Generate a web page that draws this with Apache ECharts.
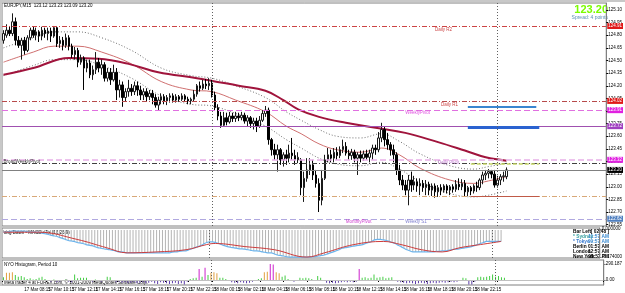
<!DOCTYPE html>
<html><head><meta charset="utf-8">
<script src="https://cdn.jsdelivr.net/npm/echarts@6/dist/echarts.min.js"></script>
<style>html,body{margin:0;padding:0;background:#fff}#c{width:625px;height:293px}</style>
</head><body><div id="c"></div>
<script>
// ---------- DATA ----------
const symbolTitle = 'EURJPY,M15  123.12 123.23 123.09 123.20';
const NBARS = 203;
const timeLabels = ['17 Mar 2010','17 Mar 08:15','17 Mar 10:15','17 Mar 12:15','17 Mar 14:15','17 Mar 16:15','17 Mar 18:15','17 Mar 20:15','17 Mar 22:15','18 Mar 00:15','18 Mar 02:15','18 Mar 04:15','18 Mar 06:15','18 Mar 08:15','18 Mar 10:15','18 Mar 12:15','18 Mar 14:15','18 Mar 16:15','18 Mar 18:15','18 Mar 20:15','18 Mar 22:15','19 Mar 00:15'];
const timeLabelBars = [0,7,15,23,31,39,47,55,63,71,79,87,95,103,111,119,127,135,143,151,159,167];
const daySeparators = [70,166];
const priceTicks = [125.10,124.95,124.80,124.65,124.50,124.35,124.20,124.05,123.90,123.75,123.60,123.45,123.30,123.15,123.00,122.85,122.70,122.55];

// candles: [open, close, low, high]
const candles = [
[124.74,124.82,124.70,124.86],[124.80,124.86,124.77,124.93],[124.86,124.82,124.79,124.91],[124.82,124.96,124.79,125.06],[124.96,124.74,124.68,125.01],
[124.74,124.68,124.65,124.79],[124.68,124.74,124.51,124.77],[124.74,124.62,124.57,124.78],[124.62,124.77,124.60,124.80],[124.77,124.86,124.74,124.89],
[124.86,124.80,124.77,124.90],[124.80,124.84,124.74,124.89],[124.84,124.79,124.72,124.86],[124.79,124.86,124.74,124.90],[124.86,124.82,124.77,124.89],
[124.82,124.85,124.74,124.89],[124.85,124.79,124.72,124.89],[124.79,124.89,124.77,124.91],[124.89,124.70,124.66,124.91],[124.70,124.74,124.65,124.79],
[124.74,124.68,124.62,124.78],[124.68,124.77,124.65,124.82],[124.77,124.67,124.62,124.80],[124.67,124.57,124.53,124.70],[124.57,124.62,124.51,124.66],
[124.62,124.48,124.42,124.65],[124.48,124.53,124.45,124.57],[124.53,124.41,124.15,124.55],[124.41,124.47,124.36,124.51],[124.47,124.33,124.29,124.51],
[124.33,124.39,124.27,124.44],[124.39,124.48,124.34,124.60],[124.48,124.41,124.36,124.53],[124.41,124.45,124.33,124.51],[124.45,124.29,124.25,124.48],
[124.29,124.36,124.25,124.41],[124.36,124.27,124.21,124.41],[124.27,124.36,124.25,124.45],[124.36,124.15,124.03,124.41],[124.15,124.21,124.06,124.27],
[124.21,124.06,123.95,124.25],[124.06,124.13,124.01,124.17],[124.13,124.17,124.07,124.27],[124.17,124.13,124.08,124.22],[124.13,124.20,124.09,124.25],
[124.20,124.15,124.08,124.25],[124.15,124.09,124.03,124.20],[124.09,124.13,124.03,124.17],[124.13,124.07,124.01,124.17],[124.07,124.11,124.03,124.15],
[124.11,124.06,123.98,124.15],[124.06,123.97,123.94,124.10],[123.97,124.03,123.91,124.07],[124.03,124.07,123.98,124.11],[124.07,124.02,123.98,124.10],
[124.02,124.06,123.97,124.09],[124.06,124.08,124.00,124.11],[124.08,124.03,124.00,124.11],[124.03,124.07,124.00,124.10],[124.07,124.04,124.01,124.09],
[124.04,124.08,124.02,124.11],[124.08,124.04,124.01,124.10],[124.04,124.02,123.98,124.07],[124.02,124.04,123.98,124.06],[124.04,124.10,124.01,124.15],
[124.10,124.20,124.07,124.22],[124.20,124.17,124.13,124.25],[124.17,124.22,124.15,124.27],[124.22,124.20,124.16,124.28],[124.20,124.23,124.15,124.29],
[124.23,124.09,124.06,124.27],[124.09,123.94,123.91,124.13],[123.94,123.84,123.79,123.98],[123.84,123.73,123.70,123.89],[123.73,123.82,123.71,123.89],
[123.82,123.77,123.73,123.88],[123.77,123.84,123.75,123.89],[123.84,123.81,123.77,123.88],[123.81,123.84,123.77,123.89],[123.84,123.82,123.78,123.88],
[123.82,123.85,123.79,123.89],[123.85,123.78,123.75,123.88],[123.78,123.82,123.72,123.85],[123.82,123.75,123.70,123.84],[123.75,123.78,123.68,123.82],
[123.78,123.72,123.65,123.82],[123.72,123.79,123.70,123.84],[123.79,123.87,123.77,123.91],[123.87,123.91,123.83,123.96],[123.91,123.56,123.50,123.94],
[123.56,123.44,123.37,123.58],[123.44,123.38,123.32,123.51],[123.38,123.44,123.18,123.50],[123.44,123.32,123.26,123.46],[123.32,123.38,123.24,123.41],
[123.38,123.34,123.26,123.44],[123.34,123.40,123.29,123.50],[123.40,123.37,123.32,123.58],[123.37,123.32,123.26,123.44],[123.32,123.35,123.28,123.41],
[123.32,122.99,122.90,123.34],[122.99,123.10,122.82,123.18],[123.10,123.20,123.06,123.34],[123.20,123.26,123.14,123.34],[123.26,123.14,123.08,123.32],
[123.14,123.04,122.99,123.20],[123.04,122.84,122.70,123.10],[122.84,123.10,122.78,123.20],[123.10,123.32,123.08,123.38],[123.32,123.38,123.29,123.46],
[123.38,123.34,123.29,123.44],[123.34,123.41,123.29,123.46],[123.41,123.37,123.32,123.47],[123.37,123.44,123.34,123.48],[123.44,123.48,123.40,123.56],
[123.48,123.40,123.37,123.53],[123.40,123.37,123.32,123.44],[123.37,123.41,123.32,123.45],[123.41,123.34,123.29,123.44],[123.34,123.38,123.14,123.41],
[123.38,123.34,123.29,123.43],[123.34,123.39,123.31,123.43],[123.39,123.35,123.32,123.44],[123.35,123.40,123.29,123.44],[123.40,123.46,123.32,123.50],
[123.46,123.44,123.38,123.50],[123.44,123.58,123.41,123.65],[123.58,123.68,123.53,123.76],[123.68,123.56,123.48,123.72],[123.56,123.50,123.44,123.64],
[123.50,123.44,123.37,123.53],[123.44,123.38,123.29,123.50],[123.38,123.20,123.14,123.41],[123.20,123.08,123.02,123.26],[123.08,123.02,122.96,123.14],
[123.02,122.96,122.90,123.08],[122.96,123.08,122.78,123.14],[123.08,123.02,122.94,123.18],[123.02,123.06,122.96,123.13],[123.06,123.01,122.94,123.10],
[123.01,123.04,122.90,123.10],[123.04,122.99,122.94,123.08],[122.99,123.03,122.90,123.08],[123.03,122.96,122.90,123.06],[122.96,123.01,122.89,123.04],
[123.01,122.94,122.87,123.04],[122.94,122.99,122.88,123.02],[122.99,122.96,122.90,123.03],[122.96,123.01,122.93,123.03],[123.01,122.96,122.92,123.03],
[122.96,123.00,122.90,123.02],[123.00,122.97,122.93,123.03],[122.97,123.03,122.94,123.08],[123.03,123.00,122.96,123.10],[123.00,123.04,122.96,123.09],
[123.04,122.94,122.89,123.08],[122.94,122.99,122.89,123.01],[122.99,122.95,122.90,123.01],[122.95,123.01,122.92,123.03],[123.01,122.99,122.94,123.06],
[122.99,123.08,122.96,123.10],[123.08,123.14,123.03,123.18],[123.14,123.16,123.08,123.20],[123.16,123.18,123.10,123.21],[123.18,123.15,123.10,123.20],
[123.15,123.02,122.99,123.20],[123.02,123.08,122.99,123.13],[123.08,123.12,123.02,123.15],[123.12,123.13,123.06,123.18],[123.12,123.20,123.09,123.23]
];

// moving averages: [barIndex, price]
const slowMA = [[0,124.33],[10,124.41],[22,124.53],[32,124.52],[42,124.46],[52,124.36],[65,124.29],[79,124.20],[88,124.14],[94,124.03],[99,123.92],[106,123.83],[115,123.76],[125,123.70],[135,123.64],[146,123.53],[155,123.43],[162,123.35],[169,123.31]];
const fastMA = [[0,124.48],[10,124.60],[17,124.67],[25,124.67],[33,124.60],[43,124.46],[53,124.25],[63,124.15],[70,124.13],[78,124.03],[88,123.89],[95,123.72],[100,123.63],[106,123.51],[112,123.44],[120,123.41],[127,123.46],[133,123.38],[140,123.22],[150,123.08],[158,123.04],[163,123.07],[169,123.12]];
const envUpper = [[0,124.65],[10,124.77],[17,124.84],[25,124.84],[33,124.77],[43,124.62],[53,124.41],[63,124.32],[70,124.29],[78,124.20],[88,124.06],[95,123.89],[100,123.79],[106,123.68],[112,123.60],[120,123.58],[127,123.63],[133,123.54],[140,123.39],[150,123.25],[158,123.21],[163,123.24],[169,123.28]];
const envLower = [[0,124.32],[10,124.44],[17,124.51],[25,124.51],[33,124.44],[43,124.29],[53,124.08],[63,123.98],[70,123.96],[78,123.87],[88,123.72],[95,123.56],[100,123.46],[106,123.34],[112,123.27],[120,123.25],[127,123.29],[133,123.21],[140,123.06],[150,122.92],[158,122.88],[163,122.90],[169,122.95]];

// pivot levels
const levelNames  = ['Daily R2','Daily R1','WeeklyPivot','Weekly R1','Daily Pivot','Broad Weekly Pivot','Bid','Daily S1','Weekly S1'];
const levelPrices = [124.91,124.02,123.91,123.72,123.32,123.28,123.20,122.89,122.62];
const levelBoxes  = [true,true,true,true,true,false,true,false,true];
const zoneSegments = [[156,179,123.95],[156,180,123.71],[157,180,123.27],[157,180,122.89]];

// MACD (12,26,9)
const macdMain = [-0.015,-0.015,-0.011,-0.008,-0.008,-0.008,-0.008,-0.008,-0.011,-0.015,-0.015,-0.015,-0.015,-0.021,-0.025,-0.028,-0.034,-0.038,-0.041,-0.048,
-0.054,-0.061,-0.068,-0.071,-0.074,-0.081,-0.084,-0.087,-0.094,-0.098,-0.101,-0.107,-0.114,-0.117,-0.121,-0.124,-0.127,-0.131,-0.134,-0.141,
-0.141,-0.144,-0.147,-0.147,-0.147,-0.147,-0.147,-0.147,-0.147,-0.147,-0.147,-0.147,-0.147,-0.147,-0.147,-0.147,-0.147,-0.144,-0.141,-0.141,
-0.137,-0.134,-0.134,-0.127,-0.121,-0.114,-0.107,-0.101,-0.091,-0.081,-0.077,-0.077,-0.081,-0.087,-0.094,-0.101,-0.107,-0.111,-0.114,-0.117,
-0.121,-0.121,-0.124,-0.127,-0.131,-0.134,-0.134,-0.137,-0.141,-0.144,-0.147,-0.147,-0.154,-0.161,-0.164,-0.167,-0.171,-0.174,-0.174,-0.174,
-0.174,-0.174,-0.174,-0.174,-0.174,-0.171,-0.171,-0.167,-0.164,-0.161,-0.154,-0.147,-0.141,-0.134,-0.127,-0.117,-0.114,-0.111,-0.107,-0.104,
-0.101,-0.098,-0.094,-0.087,-0.081,-0.074,-0.064,-0.061,-0.061,-0.064,-0.068,-0.074,-0.081,-0.087,-0.098,-0.107,-0.117,-0.127,-0.134,-0.141,
-0.141,-0.141,-0.141,-0.141,-0.141,-0.141,-0.141,-0.137,-0.137,-0.134,-0.134,-0.131,-0.127,-0.124,-0.124,-0.121,-0.117,-0.114,-0.111,-0.107,
-0.101,-0.094,-0.087,-0.081,-0.074,-0.074,-0.074,-0.074,-0.074,-0.074];
const macdSignal = [[0,-0.015],[12,-0.015],[25,-0.061],[35,-0.114],[42,-0.147],[52,-0.141],[62,-0.127],[69,-0.094],[72,-0.087],[82,-0.107],[92,-0.127],[103,-0.174],[109,-0.147],[119,-0.094],[129,-0.074],[135,-0.094],[142,-0.127],[149,-0.141],[155,-0.114],[162,-0.094],[169,-0.074]];
const macdLabels = ['0.000000','-0.174000'];

// NYO histogram, period 10
const nyo = [50,130,130,140,90,60,70,50,20,30,10,20,40,60,20,-20,-30,10,-40,-30,
-20,10,-30,-40,100,30,40,40,40,-20,-30,10,-20,-30,-20,60,50,-20,-40,-30,
-50,-40,-60,-50,-40,-60,-50,-40,-60,-50,-30,-60,-70,-40,-50,-60,-70,-60,-50,-70,
-60,-81,-30,20,30,40,200,60,220,90,130,140,120,40,40,20,-20,-40,-50,-60,
-40,-50,-60,-50,-30,-20,20,30,140,150,290.187,280,140,120,60,80,20,-20,-30,-20,
40,30,40,30,20,-20,70,40,-20,-50,-60,-50,-60,-50,-40,-30,-40,-30,-40,-30,
200,40,50,30,40,100,40,50,60,30,40,50,-20,-30,-40,-50,-60,-50,-60,-70,
-60,-50,-60,-70,-60,-50,-60,-50,-40,-50,-40,-30,-40,-30,-20,40,30,-80,-81.129,-30,
50,60,50,60,70,100,60,70,50,40];
const nyoLabels = [290.187,0,-81.129];

const clocks = [['Bar Left','[ 02:48 ]'],['* Sydney','11:57 AM'],['* Tokyo','09:57 AM'],['Berlin','01:57 AM'],['London','12:57 AM'],['New York','08:57 PM']];

// ---------- CHART ----------
const FONT = 'Liberation Sans, Arial, sans-serif';
const cats = Array.from({length: NBARS}, (_, i) => i);
const labelMap = {};
timeLabelBars.forEach((b, j) => labelMap[b] = timeLabels[j]);

const lvlStyle = [
  {color:'#cc4444', type:[5,2,1,2], box:'#e01818'},
  {color:'#b84a4a', type:[5,2,1,2], box:'#e01818'},
  {color:'#e070e0', type:[6,3], box:'#e020e0'},
  {color:'#a050b0', type:'solid', box:'#a040c0'},
  {color:'#e8b0e8', type:[6,3], box:'#e020e0', width:1.5},
  {color:'#404040', type:[5,2,1,2], box:'#000'},
  {color:'#808080', type:'solid', box:'#000'},
  {color:'#d8a878', type:[5,2,1,2], box:'#d08040'},
  {color:'#b0a8e0', type:[6,3], box:'#4f7fc0'}
];
const levelLines = levelPrices.map((p, k) => ({
  yAxis: p,
  lineStyle: {color: lvlStyle[k].color, type: lvlStyle[k].type, width: lvlStyle[k].width || 1},
  label: levelBoxes[k] ? {show:true, position:'end', distance:1, formatter: p.toFixed(2), fontSize:4.5, fontFamily:FONT, color:'#fff', backgroundColor: lvlStyle[k].box, padding:[1,1,0,1]} : {show:false}
}));
const segStyles = [
  {color:'#3a86d0', width:2},
  {color:'#2a62d0', width:3},
  {color:'#c8d868', width:1.5, type:[4,2]},
  {color:'#c05a48', width:1}
];
const segLines = zoneSegments.map((s, k) => [
  {coord:[s[0], s[2]], lineStyle:{color:segStyles[k].color, width:segStyles[k].width, type:segStyles[k].type || 'solid'}, label:{show:false}},
  {coord:[s[1], s[2]]}
]);
const dayLines = daySeparators.map(d => ({xAxis: d, lineStyle:{color:'#606060', type:[1,2], width:1}, label:{show:false}}));

const textPts = [
  ['Daily R2', 145, 124.87, '#cc4444'],
  ['Daily R1', 147, 123.98, '#cc4444'],
  ['WeeklyPivot', 135, 123.88, '#e050e0'],
  ['Daily Pivot', 146, 123.285, '#c080d0'],
  ['BroadWeeklyPivot', 0, 123.30, '#404040'],
  ['MonthlyPivot', 115, 122.59, '#d040d0'],
  ['Weekly S1', 135, 122.59, '#8080d0']
];

const nyoColor = v => v > 180 ? '#cc22cc' : v > 110 ? '#e0a040' : v >= 0 ? '#44cc44' : '#5a3aa8';

const chart = echarts.init(document.getElementById('c'), null, {renderer:'canvas'});
const commonX = idx => ({
  type:'category', gridIndex: idx, data: cats, boundaryGap: true,
  axisLine:{show:false}, axisTick:{show:false}, axisLabel:{show:false}, splitLine:{show:false}
});
const option = {
  animation:false,
  backgroundColor:'#fff',
  textStyle:{fontFamily:FONT},
  grid:[
    {left:2, right:14, top:3, height:223, show:true, borderColor:'#808080', borderWidth:1, backgroundColor:'#fff'},
    {left:2, right:14, top:228, height:30, show:true, borderColor:'#808080', borderWidth:1},
    {left:2, right:14, top:260, height:25, show:true, borderColor:'#808080', borderWidth:1}
  ],
  xAxis:[
    commonX(0), commonX(1),
    Object.assign(commonX(2), {
      axisLabel:{show:true, interval:(i)=> labelMap[i] !== undefined, formatter:(v,i)=> labelMap[i] || '', fontSize:4.5, color:'#000', align:'left', margin:2, fontFamily:FONT},
      axisTick:{show:true, interval:(i)=> labelMap[i] !== undefined, length:2, lineStyle:{color:'#000'}}
    })
  ],
  yAxis:[
    {type:'value', gridIndex:0, position:'right', min:122.534, max:125.183, scale:true,
     axisLine:{show:true, lineStyle:{color:'#808080'}}, splitLine:{show:false},
     axisTick:{show:true, length:2, customValues: priceTicks, lineStyle:{color:'#000'}},
     axisLabel:{show:true, customValues: priceTicks, formatter: v => v.toFixed(2), fontSize:4.5, color:'#000', margin:2, fontFamily:FONT}},
    {type:'value', gridIndex:1, position:'right', min:-0.18, max:0.012,
     axisLine:{show:true, lineStyle:{color:'#808080'}}, splitLine:{show:false},
     axisTick:{show:true, length:2, customValues:[0.005,-0.175]},
     axisLabel:{show:true, customValues:[0.005,-0.175], formatter:(v)=> v > -0.1 ? macdLabels[0] : macdLabels[1], fontSize:4.5, color:'#000', margin:2}},
    {type:'value', gridIndex:2, position:'right', min:-90, max:360,
     axisLine:{show:true, lineStyle:{color:'#808080'}}, splitLine:{show:false},
     axisTick:{show:true, length:2, customValues: nyoLabels},
     axisLabel:{show:true, customValues: nyoLabels, formatter:(v)=> v === 0 ? '0.00' : String(v), fontSize:4.5, color:'#000', margin:2}}
  ],
  series:[
    {type:'candlestick', xAxisIndex:0, yAxisIndex:0, data:candles, barWidth:2,
     itemStyle:{color:'#ffffff', color0:'#000000', borderColor:'#1a1a1a', borderColor0:'#000000', borderWidth:1},
     markLine:{symbol:'none', silent:true, animation:false, data: levelLines.concat(segLines).concat(dayLines)},
     markPoint:{symbol:'rect', symbolSize:0, silent:true,
       data: textPts.map(t => ({coord:[t[1], t[2]], label:{show:true, position:'right', distance:0, formatter:t[0], color:t[3], fontSize:4.5, fontFamily:FONT}}))}
    },
    {type:'line', xAxisIndex:0, yAxisIndex:0, data:envUpper, smooth:0.4, symbol:'none', lineStyle:{color:'#707070', width:1, type:[1,2]}, z:1},
    {type:'line', xAxisIndex:0, yAxisIndex:0, data:envLower, smooth:0.4, symbol:'none', lineStyle:{color:'#707070', width:1, type:[1,2]}, z:1},
    {type:'line', xAxisIndex:0, yAxisIndex:0, data:fastMA, smooth:0.4, symbol:'none', lineStyle:{color:'#d07070', width:1}, z:1},
    {type:'line', xAxisIndex:0, yAxisIndex:0, data:slowMA, smooth:0.4, symbol:'none', lineStyle:{color:'#a0143c', width:2}, z:1},
    {type:'bar', xAxisIndex:1, yAxisIndex:1, data:macdMain, barWidth:1, itemStyle:{color:'#b4b4b4'},
     markLine:{symbol:'none', silent:true, data: dayLines}},
    {type:'line', xAxisIndex:1, yAxisIndex:1, data:macdMain, symbol:'none', smooth:0.3, lineStyle:{color:'#6cb4ec', width:1.2}},
    {type:'line', xAxisIndex:1, yAxisIndex:1, data:macdSignal, symbol:'none', smooth:0.4, lineStyle:{color:'#cc3c3c', width:1}},
    {type:'bar', xAxisIndex:2, yAxisIndex:2, data:nyo.map(v => ({value:v, itemStyle:{color:nyoColor(v)}})), barWidth:1,
     markLine:{symbol:'none', silent:true, data: dayLines.concat([{yAxis:0, lineStyle:{color:'#c0c0c0', type:'solid', width:1}, label:{show:false}}])}}
  ],
  graphic:[
    {type:'rect', left:0, top:0, shape:{width:625, height:2}, style:{fill:'#c8c8c8'}, silent:true},
    {type:'rect', left:0, top:0, shape:{width:2, height:286}, style:{fill:'#c8c8c8'}, silent:true},
    {type:'text', left:4, top:3, style:{text:symbolTitle, fontSize:4.5, fill:'#000', fontFamily:FONT}},
    {type:'text', right:17, top:4, style:{text:'123.20', fontSize:11, fontWeight:'bold', fill:'#7cfc00', fontFamily:FONT}},
    {type:'text', right:17, top:15, style:{text:'Spread: 4 points', fontSize:5, fill:'#5a8fb4', fontFamily:FONT}},
    {type:'text', left:4, top:230, style:{text:'ang Dawn - MACD-eTx (12,26,9)', fontSize:4.5, fill:'#000', fontFamily:FONT}},
    {type:'text', left:4, top:262, style:{text:'NYO Histogram, Period 10', fontSize:4.5, fill:'#000', fontFamily:FONT}},
    {type:'text', left:4, top:280, style:{text:'MetaTrader 4 at FOREX.com, \u00a9 2001-2009 MetaQuotes Software Corp.', fontSize:4.5, fill:'#000', fontFamily:FONT}}
  ].concat(clocks.map((c, k) => ({type:'text', left:573, top:229 + k*5, style:{text:c[0], fontSize:4.8, fontWeight:'bold', fill: k===1 ? '#3aa0a0' : k===2 ? '#3a7ad0' : '#000', fontFamily:FONT}})))
   .concat(clocks.map((c, k) => ({type:'text', right:16, top:229 + k*5, style:{text:c[1], fontSize:4.8, fontWeight:'bold', fill: (k===1||k===2) ? '#3a8ad0' : '#000', fontFamily:FONT}})))
};
chart.setOption(option);
</script></body></html>
